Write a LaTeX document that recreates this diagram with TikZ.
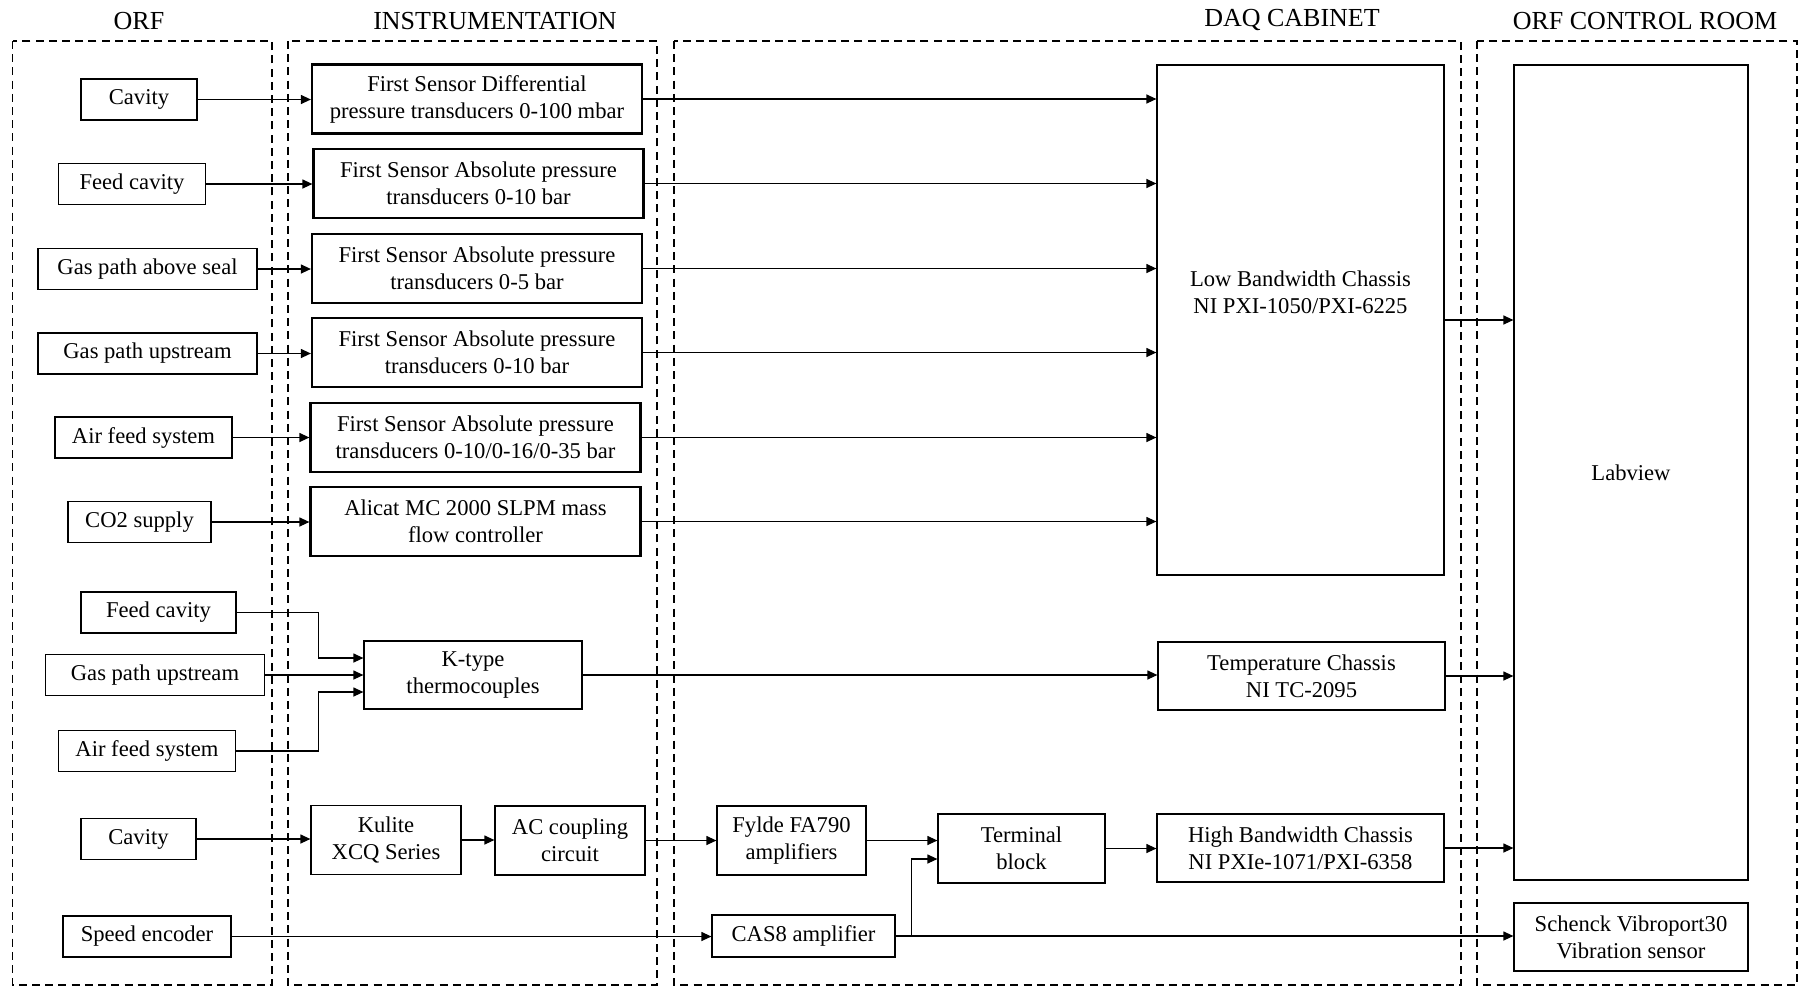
\documentclass[tikz,border=0pt]{standalone}
\usepackage{fontspec}
\setmainfont{Liberation Serif}
\usetikzlibrary{arrows.meta}

\begin{document}
\begin{tikzpicture}[x=0.5pt, y=-0.5pt,
      box/.style ={draw, line width=0.6pt, inner sep=0pt, align=center, minimum height=20.5pt,
                   font=\fontsize{11.3}{13.5}\selectfont},
      sensor/.style ={box, line width=1.1pt, minimum width=165pt, minimum height=34.5pt},
      zone/.style ={draw, line width=0.7pt, dash pattern=on 4pt off 2.6pt},
      heading/.style ={font=\fontsize{13}{15}\selectfont},
      arr/.style ={line width=0.6pt, -{Triangle[length=5pt, width=4.5pt]}}]
   \useasboundingbox (0,0) rectangle (1800,986);

   % areas
   \draw[zone] (12.5,41) rectangle (272,985);
   \draw[zone] (288,41) rectangle (657,985);
   \draw[zone] (674,41) rectangle (1461,985);
   \draw[zone] (1477,41) rectangle (1797,985);

   \node[heading] (hORF)  at (139,21)  {ORF};
   \node[heading] (hINS)  at (495,21)  {INSTRUMENTATION};
   \node[heading] (hDAQ)  at (1292,20) {DAQ CABINET};
   \node[heading] (hCTRL) at (1645,21) {ORF CONTROL ROOM};

   % ORF
   \node[box, minimum width=58pt] (cav1)  at (139,99.5)   {Cavity};
   \node[box, minimum width=73.5pt] (feed1) at (132,184)  {Feed cavity};
   \node[box, minimum width=109.5pt] (seal) at (147.5,269) {Gas path above seal};
   \node[box, minimum width=109.5pt] (gup1) at (147.5,353.5) {Gas path upstream};
   \node[box, minimum width=88.5pt] (air1) at (143.5,437.5) {Air feed system};
   \node[box, minimum width=71.5pt] (co2)  at (139.5,522)  {CO2 supply};

   \node[box, minimum width=77.5pt] (feed2) at (158.5,612.5) {Feed cavity};
   \node[box, minimum width=109.5pt] (gup2) at (155,675)   {Gas path upstream};
   \node[box, minimum width=88.5pt] (air2) at (147,751)    {Air feed system};
   \node[box, minimum width=57.5pt] (cav2) at (138.5,839)  {Cavity};
   \node[box, minimum width=84pt] (speed)  at (147,936.5)  {Speed encoder};

   % instrumentation
   \node[sensor] (sen1) at (477,99)    {First Sensor Differential\\pressure transducers 0-100 mbar};
   \node[sensor] (sen2) at (478.5,183.5) {First Sensor Absolute pressure\\transducers 0-10 bar};
   \node[sensor] (sen3) at (477,268.5) {First Sensor Absolute pressure\\transducers 0-5 bar};
   \node[sensor] (sen4) at (477,352.5) {First Sensor Absolute pressure\\transducers 0-10 bar};
   \node[sensor] (sen5) at (475.5,437.5) {First Sensor Absolute pressure\\transducers 0-10/0-16/0-35 bar};
   \node[sensor] (flow) at (475.5,521.5) {Alicat MC 2000 SLPM mass\\flow controller};

   \node[box, minimum width=109pt, minimum height=34pt] (ktc) at (473,675) {K-type\\thermocouples};
   \node[box, minimum width=75pt, minimum height=34.5pt] (kulite) at (386,840) {Kulite\\XCQ Series};
   \node[box, minimum width=75pt, minimum height=34.5pt] (accoup) at (570,840.5) {AC coupling\\circuit};

   % DAQ cabinet
   \node[box, minimum width=74.5pt, minimum height=34.5pt] (fylde) at (791.5,840.5) {Fylde FA790\\amplifiers};
   \node[box, minimum width=91.5pt, minimum height=21pt] (cas) at (803.5,936) {CAS8 amplifier};
   \node[box, minimum width=83.5pt, minimum height=34.5pt] (term) at (1021.5,848.5) {Terminal\\block};

   \node[box, minimum width=143.5pt, minimum height=255pt,
         label={[box, draw=none, yshift=14pt]center:{Low Bandwidth Chassis\\NI PXI-1050/PXI-6225}}] (low) at (1300.5,320) {};
   \node[box, minimum width=143.5pt, minimum height=34pt] (temp) at (1301.5,676) {Temperature Chassis\\NI TC-2095};
   \node[box, minimum width=143.5pt, minimum height=34pt] (high) at (1300.5,848) {High Bandwidth Chassis\\NI PXIe-1071/PXI-6358};

   % control room
   \node[box, minimum width=117pt, minimum height=407.5pt] (lab) at (1631,472.5) {Labview};
   \node[box, minimum width=117pt, minimum height=34pt] (vib) at (1631,937) {Schenck Vibroport30\\Vibration sensor};

   % pressure and flow signals
   \draw[arr] (cav1) to (cav1 -| sen1.west);
   \draw[arr] (feed1) to (feed1 -| sen2.west);
   \draw[arr] (seal) to (seal -| sen3.west);
   \draw[arr] (gup1) to (gup1 -| sen4.west);
   \draw[arr] (air1) to (air1 -| sen5.west);
   \draw[arr] (co2) to (co2 -| flow.west);

   \draw[arr] (sen1) to (sen1 -| low.west);
   \draw[arr] (sen2) to (sen2 -| low.west);
   \draw[arr] (sen3) to (sen3 -| low.west);
   \draw[arr] (sen4) to (sen4 -| low.west);
   \draw[arr] (sen5) to (sen5 -| low.west);
   \draw[arr] (flow) to (flow -| low.west);

   % temperatures
   \draw[arr] (feed2.east) -- ++(82,0) |- ([yshift=8.5pt]ktc.west);
   \draw[arr] (gup2) to (gup2 -| ktc.west);
   \draw[arr] (air2.east) -- ++(82,0) |- ([yshift=-8.5pt]ktc.west);
   \draw[arr] (ktc) to (ktc -| temp.west);

   % dynamic pressure and speed
   \draw[arr] (cav2) to (cav2 -| kulite.west);
   \draw[arr] (kulite) to (kulite -| accoup.west);
   \draw[arr] (accoup) to (accoup -| fylde.west);
   \draw[arr] (fylde) to (fylde -| term.west);
   \draw[arr] (term) to (term -| high.west);
   \draw[arr] (speed) to (speed -| cas.west);
   \draw[arr] (cas) to (cas -| vib.west);
   \draw[arr] ([xshift=8pt]cas.east) |- ([yshift=-5.25pt]term.west);

   % to Labview
   \draw[arr] (low) to (low -| lab.west);
   \draw[arr] (temp) to (temp -| lab.west);
   \draw[arr] (high) to (high -| lab.west);
 \end{tikzpicture}
\end{document}
